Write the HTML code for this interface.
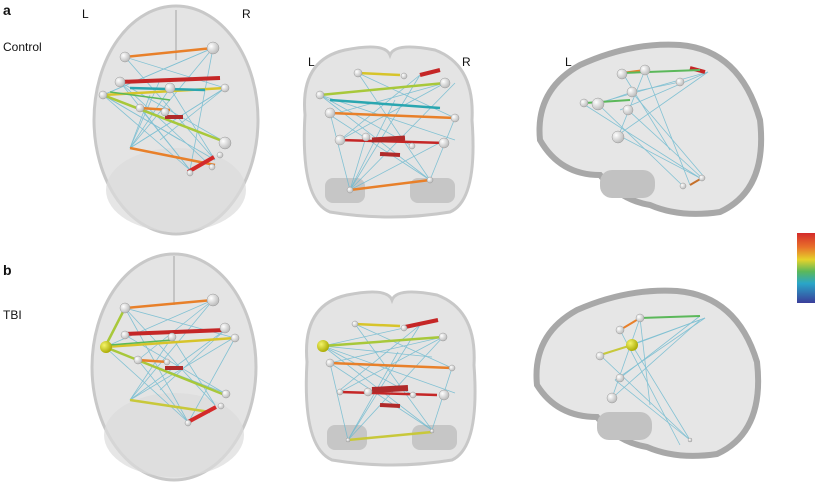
<!DOCTYPE html>
<html><head><meta charset="utf-8"><style>
html,body{margin:0;padding:0;background:#fff;}
body{width:817px;height:483px;overflow:hidden;font-family:"Liberation Sans",sans-serif;}
</style></head><body>
<svg width="817" height="483" viewBox="0 0 817 483" xmlns="http://www.w3.org/2000/svg">
<defs>
<linearGradient id="cb" x1="0" y1="0" x2="0" y2="1">
<stop offset="0" stop-color="#d42a2a"/><stop offset="0.2" stop-color="#e8702a"/><stop offset="0.38" stop-color="#e6d22a"/><stop offset="0.55" stop-color="#5bb85a"/><stop offset="0.72" stop-color="#2aa6c8"/><stop offset="1" stop-color="#3a3e9a"/>
</linearGradient>
<radialGradient id="nd" cx="0.35" cy="0.35" r="0.7"><stop offset="0" stop-color="#fff"/><stop offset="1" stop-color="#b8b8b8"/></radialGradient>
<radialGradient id="yl" cx="0.35" cy="0.35" r="0.7"><stop offset="0" stop-color="#f4f46a"/><stop offset="1" stop-color="#a8a800"/></radialGradient>
</defs>
<g font-size="12" fill="#111">
<text x="3" y="15" font-weight="bold" font-size="14">a</text>
<text x="3" y="51">Control</text>
<text x="82" y="18">L</text><text x="242" y="18">R</text>
<text x="308" y="66">L</text><text x="462" y="66">R</text>
<text x="565" y="66">L</text>
<text x="3" y="275" font-weight="bold" font-size="14">b</text>
<text x="3" y="319">TBI</text>
</g>
<rect x="797" y="233" width="18" height="70" fill="url(#cb)"/>

<!-- Axial a -->
<g>
<ellipse cx="176" cy="120" rx="82" ry="114" fill="#e4e4e4" stroke="#c8c8c8" stroke-width="3"/>
<line x1="176" y1="10" x2="176" y2="60" stroke="#c4c4c4" stroke-width="2"/>
<ellipse cx="176" cy="190" rx="70" ry="42" fill="#dcdcdc" opacity="0.7"/>
<g stroke="#6bb9cf" stroke-width="0.8" opacity="0.8">
<line x1="103" y1="95" x2="225" y2="142"/><line x1="103" y1="95" x2="190" y2="170"/><line x1="130" y1="148" x2="213" y2="48"/><line x1="125" y1="57" x2="215" y2="160"/><line x1="103" y1="95" x2="213" y2="48"/><line x1="130" y1="148" x2="225" y2="88"/><line x1="140" y1="108" x2="190" y2="170"/><line x1="103" y1="95" x2="215" y2="160"/><line x1="160" y1="80" x2="130" y2="148"/><line x1="225" y1="88" x2="130" y2="148"/><line x1="213" y1="48" x2="190" y2="170"/><line x1="120" y1="82" x2="225" y2="142"/><line x1="170" y1="88" x2="215" y2="160"/><line x1="150" y1="95" x2="130" y2="148"/>
<line x1="125" y1="57" x2="225" y2="88"/><line x1="120" y1="82" x2="190" y2="170"/><line x1="140" y1="108" x2="225" y2="142"/><line x1="213" y1="48" x2="103" y2="95"/><line x1="130" y1="148" x2="170" y2="88"/><line x1="212" y1="167" x2="120" y2="82"/><line x1="160" y1="140" x2="225" y2="88"/><line x1="103" y1="95" x2="180" y2="140"/>
</g>
<g stroke-width="2.5">
<line x1="125" y1="57" x2="213" y2="48" stroke="#e8802a"/>
<line x1="120" y1="82" x2="220" y2="78" stroke="#c52626" stroke-width="4"/>
<line x1="103" y1="95" x2="225" y2="88" stroke="#d7c42a"/>
<line x1="103" y1="95" x2="225" y2="142" stroke="#a8c83a"/>
<line x1="140" y1="108" x2="170" y2="110" stroke="#e8802a"/>
<line x1="165" y1="117" x2="183" y2="117" stroke="#b02a2a" stroke-width="4"/>
<line x1="130" y1="148" x2="215" y2="165" stroke="#e8802a"/>
<line x1="188" y1="172" x2="214" y2="157" stroke="#d42a2a" stroke-width="4"/>
<line x1="130" y1="88" x2="205" y2="90" stroke="#2aa6b0"/>
<line x1="110" y1="92" x2="170" y2="100" stroke="#5bb85a" stroke-width="1.5"/>
</g>
<g fill="url(#nd)" stroke="#999" stroke-width="0.5">
<circle cx="125" cy="57" r="5"/><circle cx="213" cy="48" r="6"/><circle cx="120" cy="82" r="5"/><circle cx="225" cy="88" r="4"/><circle cx="103" cy="95" r="4"/><circle cx="170" cy="88" r="5"/><circle cx="140" cy="108" r="4"/><circle cx="165" cy="112" r="4"/><circle cx="225" cy="143" r="6"/><circle cx="220" cy="155" r="3"/><circle cx="190" cy="173" r="3"/><circle cx="212" cy="167" r="3"/>
</g>
</g>

<!-- Coronal a -->
<g>
<path d="M305,115 Q300,60 345,50 Q385,42 390,55 Q395,42 435,50 Q475,65 472,120 Q478,200 450,212 Q390,222 330,212 Q300,200 305,115Z" fill="#e4e4e4" stroke="#c8c8c8" stroke-width="3"/>
<rect x="325" y="178" width="40" height="25" rx="8" fill="#c6c6c6"/><rect x="410" y="178" width="45" height="25" rx="8" fill="#c6c6c6"/>
<g stroke="#6bb9cf" stroke-width="0.8" opacity="0.8">
<line x1="350" y1="190" x2="420" y2="75"/><line x1="350" y1="190" x2="455" y2="83"/><line x1="430" y1="180" x2="320" y2="95"/><line x1="430" y1="180" x2="330" y2="115"/><line x1="350" y1="190" x2="395" y2="100"/><line x1="320" y1="95" x2="455" y2="140"/><line x1="330" y1="115" x2="445" y2="83"/><line x1="340" y1="140" x2="420" y2="75"/><line x1="430" y1="180" x2="358" y2="73"/><line x1="350" y1="190" x2="445" y2="140"/>
<line x1="350" y1="190" x2="330" y2="113"/><line x1="430" y1="180" x2="455" y2="118"/><line x1="358" y1="73" x2="455" y2="118"/><line x1="320" y1="95" x2="412" y2="146"/><line x1="445" y1="83" x2="340" y2="140"/><line x1="350" y1="190" x2="366" y2="137"/>
</g>
<g stroke-width="2.5">
<line x1="420" y1="75" x2="440" y2="70" stroke="#c52626" stroke-width="4"/>
<line x1="358" y1="73" x2="400" y2="75" stroke="#d7c42a"/>
<line x1="320" y1="95" x2="445" y2="83" stroke="#a8c83a"/>
<line x1="330" y1="113" x2="455" y2="118" stroke="#e8802a"/>
<line x1="340" y1="140" x2="445" y2="143" stroke="#c52626"/>
<line x1="372" y1="140" x2="405" y2="138" stroke="#b02a2a" stroke-width="5"/>
<line x1="380" y1="154" x2="400" y2="155" stroke="#b02a2a" stroke-width="4"/>
<line x1="350" y1="190" x2="430" y2="180" stroke="#e8802a"/>
<line x1="330" y1="100" x2="440" y2="108" stroke="#2aa6b0"/>
</g>
<g fill="url(#nd)" stroke="#999" stroke-width="0.5">
<circle cx="358" cy="73" r="4"/><circle cx="404" cy="76" r="3"/><circle cx="445" cy="83" r="5"/><circle cx="320" cy="95" r="4"/><circle cx="330" cy="113" r="5"/><circle cx="455" cy="118" r="4"/><circle cx="340" cy="140" r="5"/><circle cx="366" cy="137" r="4"/><circle cx="444" cy="143" r="5"/><circle cx="412" cy="146" r="3"/><circle cx="350" cy="190" r="3"/><circle cx="430" cy="180" r="3"/>
</g>
</g>

<!-- Sagittal a -->
<g>
<path d="M540,140 Q535,90 580,65 Q630,42 680,45 Q740,50 760,120 Q768,190 720,212 Q680,218 650,205 Q620,200 600,175 Q560,175 540,140Z" fill="#e6e6e6" stroke="#a8a8a8" stroke-width="6"/>
<rect x="600" y="170" width="55" height="28" rx="12" fill="#c2c2c2"/>
<g stroke="#6bb9cf" stroke-width="0.8" opacity="0.8">
<line x1="618" y1="135" x2="708" y2="72"/><line x1="618" y1="135" x2="700" y2="178"/><line x1="585" y1="105" x2="700" y2="178"/><line x1="630" y1="90" x2="705" y2="178"/><line x1="620" y1="110" x2="708" y2="72"/><line x1="645" y1="70" x2="690" y2="185"/><line x1="598" y1="103" x2="708" y2="72"/><line x1="622" y1="72" x2="670" y2="150"/>
<line x1="598" y1="104" x2="683" y2="186"/><line x1="628" y1="110" x2="702" y2="178"/><line x1="632" y1="92" x2="680" y2="82"/><line x1="618" y1="137" x2="645" y2="70"/><line x1="598" y1="104" x2="632" y2="92"/>
</g>
<g stroke-width="2">
<line x1="622" y1="73" x2="645" y2="70" stroke="#e8802a"/><line x1="690" y1="68" x2="705" y2="72" stroke="#c52626" stroke-width="4"/><line x1="585" y1="103" x2="630" y2="100" stroke="#5bb85a"/><line x1="622" y1="73" x2="700" y2="70" stroke="#5bb85a"/><line x1="690" y1="185" x2="702" y2="178" stroke="#c5702a"/>
</g>
<g fill="url(#nd)" stroke="#999" stroke-width="0.5">
<circle cx="622" cy="74" r="5"/><circle cx="645" cy="70" r="5"/><circle cx="632" cy="92" r="5"/><circle cx="598" cy="104" r="6"/><circle cx="584" cy="103" r="4"/><circle cx="628" cy="110" r="5"/><circle cx="618" cy="137" r="6"/><circle cx="680" cy="82" r="4"/><circle cx="702" cy="178" r="3"/><circle cx="683" cy="186" r="3"/>
</g>
</g>

<!-- Axial b -->
<g>
<ellipse cx="174" cy="367" rx="82" ry="113" fill="#e4e4e4" stroke="#c8c8c8" stroke-width="3"/>
<line x1="174" y1="256" x2="174" y2="305" stroke="#c4c4c4" stroke-width="2"/>
<ellipse cx="174" cy="435" rx="70" ry="42" fill="#dcdcdc" opacity="0.7"/>
<g stroke="#6bb9cf" stroke-width="0.8" opacity="0.8">
<line x1="105" y1="347" x2="225" y2="393"/><line x1="105" y1="347" x2="188" y2="422"/><line x1="130" y1="400" x2="213" y2="300"/><line x1="125" y1="308" x2="215" y2="405"/><line x1="105" y1="347" x2="213" y2="300"/><line x1="130" y1="400" x2="235" y2="337"/><line x1="138" y1="360" x2="188" y2="422"/><line x1="225" y1="330" x2="130" y2="400"/><line x1="172" y1="337" x2="215" y2="405"/><line x1="125" y1="308" x2="188" y2="422"/>
<line x1="125" y1="335" x2="226" y2="394"/><line x1="213" y1="300" x2="138" y2="360"/><line x1="130" y1="400" x2="172" y2="337"/><line x1="235" y1="338" x2="188" y2="423"/><line x1="125" y1="308" x2="235" y2="338"/><line x1="160" y1="390" x2="225" y2="330"/>
</g>
<g stroke-width="2.5">
<line x1="125" y1="308" x2="213" y2="300" stroke="#e8802a"/>
<line x1="125" y1="334" x2="225" y2="330" stroke="#c52626" stroke-width="4"/>
<line x1="105" y1="347" x2="235" y2="338" stroke="#d7c42a"/>
<line x1="105" y1="347" x2="225" y2="395" stroke="#a8c83a"/>
<line x1="138" y1="360" x2="168" y2="362" stroke="#e8802a"/>
<line x1="165" y1="368" x2="183" y2="368" stroke="#b02a2a" stroke-width="4"/>
<line x1="130" y1="400" x2="210" y2="412" stroke="#c8c83a"/>
<line x1="188" y1="422" x2="216" y2="407" stroke="#d42a2a" stroke-width="4"/>
<line x1="105" y1="347" x2="125" y2="308" stroke="#a8c83a"/>
<line x1="110" y1="345" x2="172" y2="340" stroke="#5bb85a" stroke-width="1.5"/>
</g>
<g fill="url(#nd)" stroke="#999" stroke-width="0.5">
<circle cx="125" cy="308" r="5"/><circle cx="213" cy="300" r="6"/><circle cx="125" cy="335" r="4"/><circle cx="225" cy="328" r="5"/><circle cx="235" cy="338" r="4"/><circle cx="172" cy="337" r="4"/><circle cx="138" cy="360" r="4"/><circle cx="167" cy="362" r="3"/><circle cx="226" cy="394" r="4"/><circle cx="221" cy="406" r="3"/><circle cx="188" cy="423" r="3"/>
</g>
<circle cx="106" cy="347" r="6" fill="url(#yl)"/>
</g>

<!-- Coronal b -->
<g>
<path d="M307,362 Q302,305 347,295 Q387,287 392,300 Q397,287 437,295 Q477,310 474,365 Q480,447 452,460 Q392,470 332,460 Q302,447 307,362Z" fill="#e4e4e4" stroke="#c8c8c8" stroke-width="3"/>
<rect x="327" y="425" width="40" height="25" rx="8" fill="#c6c6c6"/><rect x="412" y="425" width="45" height="25" rx="8" fill="#c6c6c6"/>
<g stroke="#6bb9cf" stroke-width="0.8" opacity="0.8">
<line x1="348" y1="440" x2="420" y2="325"/><line x1="348" y1="440" x2="443" y2="337"/><line x1="432" y1="430" x2="323" y2="346"/><line x1="432" y1="430" x2="330" y2="363"/><line x1="348" y1="440" x2="398" y2="352"/><line x1="323" y1="346" x2="455" y2="393"/><line x1="330" y1="363" x2="443" y2="337"/><line x1="340" y1="390" x2="420" y2="325"/><line x1="432" y1="430" x2="355" y2="324"/><line x1="323" y1="346" x2="432" y2="357"/>
<line x1="348" y1="440" x2="330" y2="363"/><line x1="432" y1="430" x2="452" y2="368"/><line x1="355" y1="324" x2="452" y2="368"/><line x1="323" y1="346" x2="413" y2="395"/><line x1="443" y1="337" x2="340" y2="392"/><line x1="323" y1="346" x2="404" y2="328"/>
</g>
<g stroke-width="2.5">
<line x1="405" y1="327" x2="438" y2="320" stroke="#c52626" stroke-width="4"/>
<line x1="355" y1="324" x2="400" y2="326" stroke="#d7c42a"/>
<line x1="323" y1="346" x2="443" y2="337" stroke="#a8c83a"/>
<line x1="330" y1="363" x2="452" y2="368" stroke="#e8802a"/>
<line x1="340" y1="392" x2="437" y2="395" stroke="#c52626"/>
<line x1="372" y1="390" x2="408" y2="388" stroke="#b02a2a" stroke-width="6"/>
<line x1="380" y1="405" x2="400" y2="406" stroke="#b02a2a" stroke-width="4"/>
<line x1="348" y1="440" x2="432" y2="432" stroke="#c8c83a"/>
</g>
<g fill="url(#nd)" stroke="#999" stroke-width="0.5">
<circle cx="355" cy="324" r="3"/><circle cx="404" cy="328" r="3"/><circle cx="443" cy="337" r="4"/><circle cx="330" cy="363" r="4"/><circle cx="452" cy="368" r="3"/><circle cx="340" cy="392" r="3"/><circle cx="368" cy="392" r="4"/><circle cx="444" cy="395" r="5"/><circle cx="413" cy="395" r="3"/><circle cx="348" cy="440" r="2"/><circle cx="432" cy="431" r="2"/>
</g>
<circle cx="323" cy="346" r="6" fill="url(#yl)"/>
</g>

<!-- Sagittal b -->
<g>
<path d="M537,385 Q532,335 577,310 Q627,288 677,291 Q737,296 757,362 Q765,432 717,454 Q677,460 647,447 Q617,442 597,417 Q557,417 537,385Z" fill="#e6e6e6" stroke="#a8a8a8" stroke-width="6"/>
<rect x="597" y="412" width="55" height="28" rx="12" fill="#c2c2c2"/>
<g stroke="#6bb9cf" stroke-width="0.8" opacity="0.8">
<line x1="615" y1="380" x2="705" y2="318"/><line x1="615" y1="380" x2="690" y2="440"/><line x1="600" y1="355" x2="690" y2="440"/><line x1="632" y1="345" x2="705" y2="318"/><line x1="620" y1="330" x2="680" y2="445"/><line x1="640" y1="318" x2="650" y2="405"/><line x1="610" y1="400" x2="700" y2="320"/>
<line x1="600" y1="356" x2="705" y2="318"/><line x1="632" y1="345" x2="690" y2="440"/><line x1="620" y1="378" x2="700" y2="316"/><line x1="612" y1="398" x2="640" y2="318"/>
</g>
<g stroke-width="2">
<line x1="640" y1="318" x2="700" y2="316" stroke="#5bb85a"/><line x1="600" y1="355" x2="632" y2="345" stroke="#c8c83a"/><line x1="620" y1="330" x2="640" y2="318" stroke="#e8802a"/>
</g>
<g fill="url(#nd)" stroke="#999" stroke-width="0.5">
<circle cx="620" cy="330" r="4"/><circle cx="640" cy="318" r="4"/><circle cx="600" cy="356" r="4"/><circle cx="620" cy="378" r="4"/><circle cx="612" cy="398" r="5"/><circle cx="690" cy="440" r="2"/>
</g>
<circle cx="632" cy="345" r="6" fill="url(#yl)"/>
</g>
</svg>
</body></html>
